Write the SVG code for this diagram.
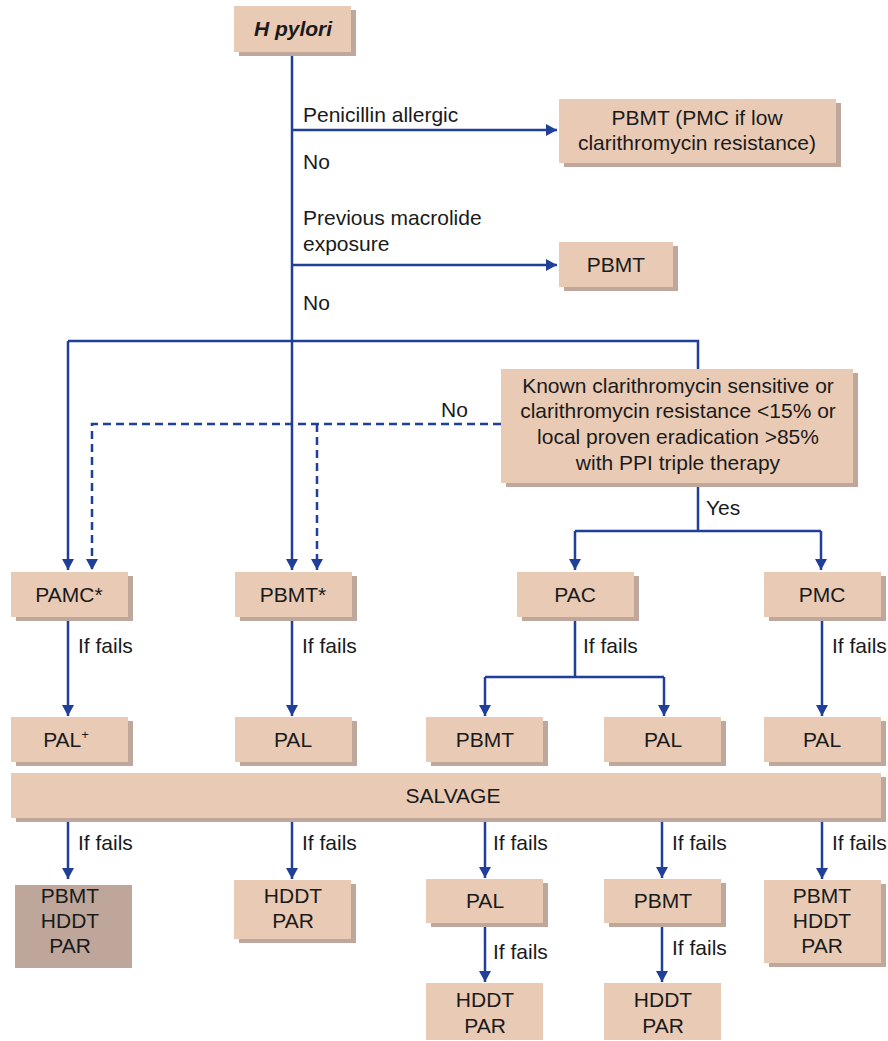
<svg xmlns="http://www.w3.org/2000/svg" width="888" height="1041" viewBox="0 0 888 1041">
  <style>
    .box { fill: #e9cab5; }
    .shadow { fill: #bfa89b; }
    .dark { fill: #bea79a; }
    .t { font-family: "Liberation Sans", Arial, sans-serif; font-size: 21px; fill: #1a1a1a; }
    .c { text-anchor: middle; }
    .ln { fill: none; stroke: #1f3f99; stroke-width: 2.5; }
    .dash { stroke-dasharray: 8 5; }
  </style>
  <defs>
    <marker id="arr" markerUnits="userSpaceOnUse" markerWidth="12" markerHeight="12" refX="11" refY="6" orient="auto">
      <path d="M0,0 L11,6 L0,12 z" fill="#1f3f99"/>
    </marker>
  </defs>
  <rect width="888" height="1041" fill="#ffffff"/>

  <!-- connectors -->
  <g id="connectors">
    <path class="ln" d="M292,52 V341"/>
    <path class="ln" d="M292,130 H557" marker-end="url(#arr)"/>
    <path class="ln" d="M292,265 H557" marker-end="url(#arr)"/>
    <path class="ln" d="M292,341 V570" marker-end="url(#arr)"/>
    <path class="ln" d="M68,341 H698 V369"/>
    <path class="ln" d="M68,341 V570" marker-end="url(#arr)"/>
    <path class="ln dash" d="M501,424 H92 V570" marker-end="url(#arr)"/>
    <path class="ln dash" d="M317,424 V570" marker-end="url(#arr)"/>
    <path class="ln" d="M698,483 V531"/>
    <path class="ln" d="M575,531 H821"/>
    <path class="ln" d="M575,531 V570" marker-end="url(#arr)"/>
    <path class="ln" d="M821,531 V570" marker-end="url(#arr)"/>

    <path class="ln" d="M68,617 V716" marker-end="url(#arr)"/>
    <path class="ln" d="M292,617 V716" marker-end="url(#arr)"/>
    <path class="ln" d="M575,617 V677"/>
    <path class="ln" d="M485,677 H664"/>
    <path class="ln" d="M485,677 V716" marker-end="url(#arr)"/>
    <path class="ln" d="M664,677 V716" marker-end="url(#arr)"/>
    <path class="ln" d="M822,617 V716" marker-end="url(#arr)"/>

    <path class="ln" d="M68,818 V879" marker-end="url(#arr)"/>
    <path class="ln" d="M292,818 V879" marker-end="url(#arr)"/>
    <path class="ln" d="M485,818 V878" marker-end="url(#arr)"/>
    <path class="ln" d="M662,818 V878" marker-end="url(#arr)"/>
    <path class="ln" d="M822,818 V879" marker-end="url(#arr)"/>
    <path class="ln" d="M485,923 V982" marker-end="url(#arr)"/>
    <path class="ln" d="M662,923 V982" marker-end="url(#arr)"/>

    <text class="t" x="303" y="122">Penicillin allergic</text>
    <text class="t" x="303" y="169">No</text>
    <text class="t" x="303" y="225">Previous macrolide</text>
    <text class="t" x="303" y="251">exposure</text>
    <text class="t" x="303" y="310">No</text>
    <text class="t" x="441" y="417">No</text>
    <text class="t" x="706" y="515">Yes</text>
    <text class="t" x="78" y="653">If fails</text>
    <text class="t" x="302" y="653">If fails</text>
    <text class="t" x="583" y="653">If fails</text>
    <text class="t" x="832" y="653">If fails</text>
    <text class="t" x="78" y="850">If fails</text>
    <text class="t" x="302" y="850">If fails</text>
    <text class="t" x="493" y="850">If fails</text>
    <text class="t" x="672" y="850">If fails</text>
    <text class="t" x="832" y="850">If fails</text>
    <text class="t" x="493" y="959">If fails</text>
    <text class="t" x="672" y="955">If fails</text>
  </g>

  <!-- nodes -->
  <g id="hpylori">
    <rect class="shadow" x="239" y="10" width="117" height="46"/>
    <rect class="box" x="234" y="6" width="117" height="46"/>
    <text class="t c" x="293" y="36" font-weight="bold" font-style="italic">H pylori</text>
  </g>
  <g id="pbmt-pmc">
    <rect class="shadow" x="564" y="103" width="277" height="64"/>
    <rect class="box" x="559" y="99" width="277" height="64"/>
    <text class="t c" x="697" y="125" font-size="20.5">PBMT (PMC if low</text>
    <text class="t c" x="697" y="150" font-size="20.5">clarithromycin resistance)</text>
  </g>
  <g id="pbmt-macrolide">
    <rect class="shadow" x="564" y="246" width="114" height="45"/>
    <rect class="box" x="559" y="242" width="114" height="45"/>
    <text class="t c" x="616" y="272">PBMT</text>
  </g>
  <g id="known">
    <rect class="shadow" x="506" y="373" width="352" height="114"/>
    <rect class="box" x="501" y="369" width="352" height="114"/>
    <text class="t c" x="678" y="393" font-size="21.4">Known clarithromycin sensitive or</text>
    <text class="t c" x="678" y="418" font-size="21.4">clarithromycin resistance &lt;15% or</text>
    <text class="t c" x="678" y="444" font-size="21.4">local proven eradication &gt;85%</text>
    <text class="t c" x="678" y="470" font-size="21.4">with PPI triple therapy</text>
  </g>

  <g id="pamc">
    <rect class="shadow" x="16" y="576" width="117" height="45"/>
    <rect class="box" x="11" y="572" width="117" height="45"/>
    <text class="t c" x="69" y="602">PAMC*</text>
  </g>
  <g id="pbmt-star">
    <rect class="shadow" x="240" y="576" width="117" height="45"/>
    <rect class="box" x="235" y="572" width="117" height="45"/>
    <text class="t c" x="293" y="602">PBMT*</text>
  </g>
  <g id="pac">
    <rect class="shadow" x="522" y="576" width="117" height="45"/>
    <rect class="box" x="517" y="572" width="117" height="45"/>
    <text class="t c" x="575" y="602">PAC</text>
  </g>
  <g id="pmc">
    <rect class="shadow" x="769" y="576" width="117" height="45"/>
    <rect class="box" x="764" y="572" width="117" height="45"/>
    <text class="t c" x="822" y="602">PMC</text>
  </g>

  <g id="pal-plus">
    <rect class="shadow" x="16" y="721" width="117" height="45"/>
    <rect class="box" x="11" y="717" width="117" height="45"/>
    <text class="t c" x="66" y="747">PAL<tspan font-size="13" dy="-8">+</tspan></text>
  </g>
  <g id="pal-2">
    <rect class="shadow" x="240" y="721" width="117" height="45"/>
    <rect class="box" x="235" y="717" width="117" height="45"/>
    <text class="t c" x="293" y="747">PAL</text>
  </g>
  <g id="pbmt-3">
    <rect class="shadow" x="431" y="721" width="117" height="45"/>
    <rect class="box" x="426" y="717" width="117" height="45"/>
    <text class="t c" x="485" y="747">PBMT</text>
  </g>
  <g id="pal-3">
    <rect class="shadow" x="609" y="721" width="117" height="45"/>
    <rect class="box" x="604" y="717" width="117" height="45"/>
    <text class="t c" x="663" y="747">PAL</text>
  </g>
  <g id="pal-4">
    <rect class="shadow" x="769" y="721" width="117" height="45"/>
    <rect class="box" x="764" y="717" width="117" height="45"/>
    <text class="t c" x="822" y="747">PAL</text>
  </g>

  <g id="salvage">
    <rect class="shadow" x="16" y="777" width="870" height="45"/>
    <rect class="box" x="11" y="773" width="870" height="45"/>
    <text class="t c" x="453" y="803" font-size="21.5">SALVAGE</text>
  </g>

  <g id="rescue-1">
    <rect class="dark" x="15" y="885" width="117" height="83"/>
    <text class="t c" x="70" y="903">PBMT</text>
    <text class="t c" x="70" y="928">HDDT</text>
    <text class="t c" x="70" y="953">PAR</text>
  </g>
  <g id="rescue-2">
    <rect class="shadow" x="239" y="884" width="117" height="59"/>
    <rect class="box" x="234" y="880" width="117" height="59"/>
    <text class="t c" x="293" y="903">HDDT</text>
    <text class="t c" x="293" y="928">PAR</text>
  </g>
  <g id="rescue-3">
    <rect class="shadow" x="431" y="883" width="117" height="44"/>
    <rect class="box" x="426" y="879" width="117" height="44"/>
    <text class="t c" x="485" y="908">PAL</text>
  </g>
  <g id="rescue-3b">
    <rect class="box" x="426" y="983" width="117" height="57"/>
    <text class="t c" x="485" y="1007">HDDT</text>
    <text class="t c" x="485" y="1033">PAR</text>
  </g>
  <g id="rescue-4">
    <rect class="shadow" x="609" y="883" width="117" height="44"/>
    <rect class="box" x="604" y="879" width="117" height="44"/>
    <text class="t c" x="663" y="908">PBMT</text>
  </g>
  <g id="rescue-4b">
    <rect class="box" x="604" y="983" width="117" height="57"/>
    <text class="t c" x="663" y="1007">HDDT</text>
    <text class="t c" x="663" y="1033">PAR</text>
  </g>
  <g id="rescue-5">
    <rect class="shadow" x="769" y="884" width="117" height="83"/>
    <rect class="box" x="764" y="880" width="117" height="83"/>
    <text class="t c" x="822" y="903">PBMT</text>
    <text class="t c" x="822" y="928">HDDT</text>
    <text class="t c" x="822" y="953">PAR</text>
  </g>
</svg>
